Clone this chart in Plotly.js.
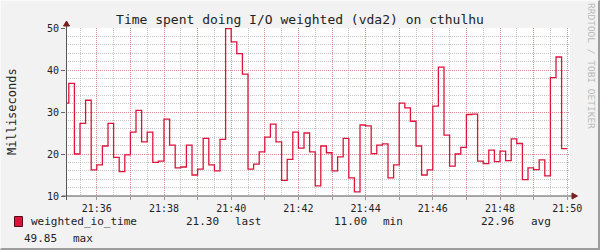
<!DOCTYPE html>
<html><head><meta charset="utf-8">
<script src="https://cdn.plot.ly/plotly-3.0.1.min.js"></script>
<style>
html,body{margin:0;padding:0;background:#f2f2f2;}
#wrap{position:relative;width:600px;height:250px;overflow:hidden;}
#chart{width:600px;height:250px;}
#frame{position:absolute;left:0;top:0;width:600px;height:250px;box-sizing:border-box;border-top:1px solid #fafafa;border-left:1px solid #fafafa;border-right:2px solid #9d9d9d;border-bottom:2px solid #9d9d9d;pointer-events:none;}
</style></head><body>
<div id="wrap"><div id="chart"></div><div id="frame"></div></div>
<script>
// ---- data ----
const chartTitle = 'Time spent doing I/O weighted (vda2) on cthulhu';
const yTitle = 'Milliseconds';
const seriesName = 'weighted_io_time';
const watermark = 'RRDTOOL / TOBI OETIKER';
const startTime = [2024, 0, 1, 21, 35, 0];   // first sample interval start (UTC)
const stepSeconds = 10;
const viewStart = [2024, 0, 1, 21, 35, 5];
const viewEnd = [2024, 0, 1, 21, 50, 5];
const ioValues = [
  32.1, 36.8, 20.0, 27.3, 32.8, 16.2,
  17.4, 21.9, 27.3, 19.2, 15.8, 19.8,
  25.2, 30.4, 22.9, 25.2, 18.0, 18.3,
  28.3, 22.1, 16.7, 16.9, 22.1, 15.0,
  16.4, 23.7, 17.4, 16.0, 23.5, 49.85,
  46.7, 43.9, 39.0, 16.4, 17.6, 20.5,
  24.0, 27.1, 22.9, 13.7, 18.7, 25.2,
  21.4, 25.0, 20.5, 12.4, 21.9, 20.3,
  16.0, 19.3, 23.7, 14.3, 11.0, 26.9,
  26.7, 20.1, 22.1, 22.4, 14.3, 17.4,
  32.1, 31.0, 27.8, 21.9, 15.0, 16.2,
  31.4, 40.7, 24.5, 17.1, 20.0, 21.6,
  29.4, 29.5, 18.3, 17.7, 20.9, 18.2,
  20.7, 18.4, 23.6, 22.5, 13.9, 16.7,
  16.3, 18.6, 14.8, 38.2, 43.1, 21.3
];
const tickMinutes = [36, 37, 38, 39, 40, 41, 42, 43, 44, 45, 46, 47, 48, 49, 50];
const tickLabels = ['21:36', '', '21:38', '', '21:40', '', '21:42', '', '21:44', '', '21:46', '', '21:48', '', '21:50'];
const yTickVals = [10, 20, 30, 40, 50];
const legendStats = [['21.30', 'last'], ['11.00', 'min'], ['22.96', 'avg'], ['49.85', 'max']];

// ---- build ----
const utc = a => Date.UTC(a[0], a[1], a[2], a[3], a[4], a[5]);
const t0 = utc(startTime);
const xs = ioValues.map((v, i) => t0 + i * stepSeconds * 1000);
xs.push(t0 + ioValues.length * stepSeconds * 1000);
const ys = ioValues.concat([ioValues[ioValues.length - 1]]);
const tickVals = tickMinutes.map(m => Date.UTC(2024, 0, 1, 21, m, 0));

const W = 600, H = 250, L = 66, R = 30, T = 28, B = 54;
const pw = W - L - R, ph = H - T - B;
const px = x => (x - L) / pw;
const py = y => (H - B - y) / ph;

const FONT = 'DejaVu Sans Mono';
const lineColor = '#dc143c';
const axisColor = '#555555';
const arrowColor = '#7a1f1f';

const trace = {
  type: 'scatter', mode: 'lines', x: xs, y: ys, name: seriesName,
  line: {shape: 'hv', color: lineColor, width: 1.3},
  hoverinfo: 'skip', showlegend: false
};

const shapes = [
  {type: 'line', xref: 'paper', yref: 'paper', x0: px(66.5), x1: px(66.5), y0: py(200), y1: py(25), line: {color: axisColor, width: 1}, layer: 'above'},
  {type: 'path', xref: 'paper', yref: 'paper', path: `M ${px(63.5)} ${py(26)} L ${px(66.5)} ${py(21)} L ${px(69.5)} ${py(26)} Z`, fillcolor: arrowColor, line: {color: arrowColor, width: 1}, layer: 'above'},
  {type: 'line', xref: 'paper', yref: 'paper', x0: px(62), x1: px(573), y0: py(196), y1: py(196), line: {color: axisColor, width: 1}, layer: 'above'},
  {type: 'path', xref: 'paper', yref: 'paper', path: `M ${px(572)} ${py(193)} L ${px(577.5)} ${py(196)} L ${px(572)} ${py(199)} Z`, fillcolor: arrowColor, line: {color: arrowColor, width: 1}, layer: 'above'},
  {type: 'rect', xref: 'paper', yref: 'paper', x0: px(14.5), x1: px(22.5), y0: py(226.5), y1: py(216.5), fillcolor: lineColor, line: {color: '#5a0a16', width: 1}}
];

const txt = (s, x, y, opts) => Object.assign({
  text: s, xref: 'paper', yref: 'paper', x: px(x), y: py(y), xanchor: 'left', yanchor: 'middle',
  showarrow: false, font: {family: FONT, size: 11, color: '#222'}
}, opts || {});

const annotations = [
  txt(seriesName, 29, 222),
  txt(legendStats[0][0], 184, 222), txt(legendStats[0][1], 233, 222),
  txt(legendStats[1][0], 332, 222), txt(legendStats[1][1], 381, 222),
  txt(legendStats[2][0], 479, 222), txt(legendStats[2][1], 529, 222),
  txt(legendStats[3][0], 22, 238), txt(legendStats[3][1], 71, 238),
  txt(watermark, 592, 66, {xanchor: 'center', textangle: 90, font: {family: FONT, size: 9.5, color: '#b8b8b8'}}),
  txt(yTitle, 12, 112, {xanchor: 'center', textangle: -90, font: {family: FONT, size: 12, color: '#222'}})
];

const majorGrid = 'rgba(230,90,90,0.5)';
const minorGrid = 'rgba(150,150,150,0.55)';

const layout = {
  width: W, height: H,
  margin: {l: L, r: R, t: T, b: B, pad: 0},
  paper_bgcolor: '#f2f2f2', plot_bgcolor: '#ffffff',
  font: {family: FONT, size: 10, color: '#222'},
  title: {text: chartTitle, x: 0.5, xref: 'container', xanchor: 'center', y: 1 - 19 / H, yref: 'container', yanchor: 'middle', font: {family: FONT, size: 13, color: '#222'}},
  xaxis: {
    type: 'date', range: [utc(viewStart), utc(viewEnd)],
    tickmode: 'array', tickvals: tickVals, ticktext: tickLabels,
    showgrid: true, gridcolor: majorGrid, griddash: '1px,1px', gridwidth: 1,
    ticks: 'outside', ticklen: 3, tickcolor: '#999', tickfont: {family: FONT, size: 10, color: '#222'},
    minor: {dtick: 30000, tick0: tickVals[0], showgrid: true, gridcolor: minorGrid, griddash: '1px,1px', gridwidth: 1, ticks: ''},
    showline: false, zeroline: false, fixedrange: true
  },
  yaxis: {
    range: [10, 50], tickmode: 'array', tickvals: yTickVals,
    showgrid: true, gridcolor: majorGrid, griddash: '1px,1px', gridwidth: 1,
    ticks: 'outside', ticklen: 4, tickcolor: '#666', tickfont: {family: FONT, size: 10, color: '#222'},
    minor: {dtick: 2, tick0: 10, showgrid: true, gridcolor: minorGrid, griddash: '1px,1px', gridwidth: 1, ticks: ''},
    showline: false, zeroline: false, fixedrange: true
  },
  shapes: shapes,
  annotations: annotations,
  showlegend: false
};

Plotly.newPlot('chart', [trace], layout, {displayModeBar: false, staticPlot: true});
</script>
</body></html>
